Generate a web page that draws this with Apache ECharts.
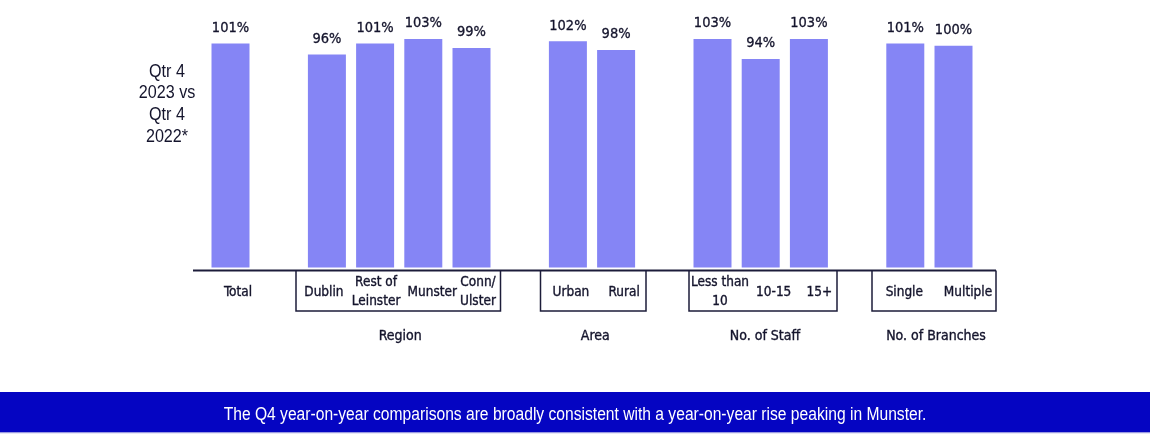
<!DOCTYPE html>
<html>
<head>
<meta charset="utf-8">
<script src="https://cdn.jsdelivr.net/npm/echarts@6/dist/echarts.min.js"></script>
<style>
  html, body { margin: 0; padding: 0; background: #ffffff; }
  #chart { width: 1150px; height: 437px; }
</style>
</head>
<body>
<div id="chart"></div>
<script>
// ---- data ----
const categories = ['Total', '', 'Dublin', 'Rest of\nLeinster', 'Munster', 'Conn/\nUlster', '', 'Urban', 'Rural', '', 'Less than\n10', '10-15', '15+', '', 'Single', 'Multiple'];
const values = [101, null, 96, 101, 103, 99, null, 102, 98, null, 103, 94, 103, null, 101, 100];
const groupNames = ['Region', 'Area', 'No. of Staff', 'No. of Branches'];
const sideLabel = 'Qtr 4\n2023 vs\nQtr 4\n2022*';
const footnote = 'The Q4 year-on-year comparisons are broadly consistent with a year-on-year rise peaking in Munster.';

// ---- layout (decoration, pixels) ----
const labelShift = [7.5, 0, -3, 1, 9, 6.5, 0, 3, 8, 0, 7.5, 13, 10.5, 0, -1, 14.5];
const boxes = [
  { x1: 296, x2: 500.5 },
  { x1: 540.5, x2: 646 },
  { x1: 689, x2: 837 },
  { x1: 872, x2: 996 }
];
const axisY = 270.5, boxBottom = 311;
const textColor = '#14142c';
const labelFont = '"DejaVu Sans Condensed", "DejaVu Sans", sans-serif';
const sansFont = '"Liberation Sans", Arial, sans-serif';

const chart = echarts.init(document.getElementById('chart'), null, { renderer: 'canvas' });

const graphics = [];
graphics.push({ type: 'line', shape: { x1: 193, y1: axisY, x2: 996, y2: axisY }, style: { stroke: '#1c1c3a', lineWidth: 2 }, z: 10 });
boxes.forEach((b, i) => {
  graphics.push({ type: 'polyline', shape: { points: [[b.x1, axisY], [b.x1, boxBottom], [b.x2, boxBottom], [b.x2, axisY]] }, style: { stroke: '#1c1c3a', lineWidth: 1.5, fill: null }, z: 10 });
  graphics.push({ type: 'text', x: (b.x1 + b.x2) / 2 + 2, y: 336, style: { text: groupNames[i], font: '14px ' + labelFont, fill: textColor, stroke: textColor, lineWidth: 0.35, textAlign: 'center', textVerticalAlign: 'middle' }, z: 10 });
});
graphics.push({ type: 'text', x: 167, y: 104, scaleX: 0.85, style: { text: sideLabel, font: '19px ' + sansFont, fill: textColor, textAlign: 'center', textVerticalAlign: 'middle', lineHeight: 21.7 }, z: 10 });
graphics.push({ type: 'rect', shape: { x: 0, y: 392, width: 1150, height: 40.5 }, style: { fill: '#0505c2' }, z: 5 });
graphics.push({ type: 'rect', shape: { x: 0, y: 432, width: 1150, height: 1.2 }, style: { fill: '#9a9ae0' }, z: 5 });
graphics.push({ type: 'text', x: 575, y: 415, scaleX: 0.893, style: { text: footnote, font: '17.5px ' + sansFont, fill: '#ffffff', textAlign: 'center', textVerticalAlign: 'middle' }, z: 10 });

const rich = {};
labelShift.forEach((s, i) => {
  rich['s' + i] = {
    fontFamily: labelFont, fontSize: 13.5, lineHeight: 19, color: textColor,
    textBorderColor: textColor, textBorderWidth: 0.35,
    padding: s >= 0 ? [0, 0, 0, 2 * s] : [0, -2 * s, 0, 0]
  };
});

chart.setOption({
  animation: false,
  backgroundColor: '#ffffff',
  grid: { left: 206.4, right: 172.4, top: 23.5, bottom: 169.5, containLabel: false },
  xAxis: {
    type: 'category',
    data: categories,
    axisLine: { show: false },
    axisTick: { show: false },
    axisLabel: {
      interval: 0,
      margin: 24.5,
      verticalAlign: 'middle',
      color: textColor,
      fontFamily: labelFont,
      fontSize: 13.5,
      lineHeight: 19,
      formatter: (v, i) => v ? v.split('\n').map(t => '{s' + i + '|' + t + '}').join('\n') : '',
      rich: rich
    }
  },
  yAxis: { type: 'value', min: 0, max: 110, show: false, splitLine: { show: false } },
  series: [{
    type: 'bar',
    data: values,
    barWidth: 38,
    itemStyle: { color: '#8585f5' },
    label: {
      show: true,
      position: 'top',
      distance: 8,
      formatter: '{c}%',
      color: textColor,
      textBorderColor: textColor,
      textBorderWidth: 0.3,
      fontFamily: labelFont,
      fontSize: 14.5
    }
  }],
  graphic: graphics
});
</script>
</body>
</html>
